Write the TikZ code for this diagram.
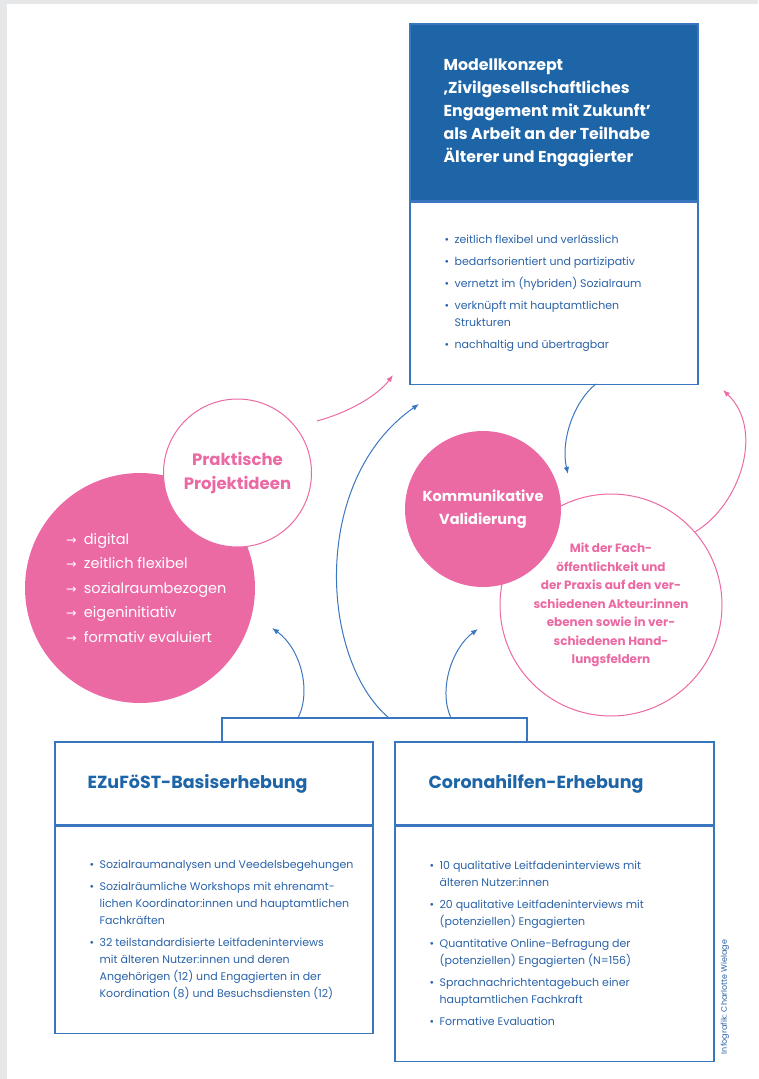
\documentclass[tikz,border=0pt]{standalone}
\usepackage{fontspec}
\setmainfont{Poppins}
\newfontfamily\symfont{DejaVu Sans}
\usepackage{tikz}
\usetikzlibrary{arrows.meta}

\definecolor{headblue}{RGB}{30,101,168}
\definecolor{lineblue}{RGB}{58,118,192}
\definecolor{textblue}{RGB}{42,98,168}
\definecolor{pinkfill}{RGB}{236,106,164}
\definecolor{framegrey}{RGB}{230,231,233}

\newcommand{\bpunkt}{\textbullet\enspace}
\newcommand{\bweiter}{\phantom{\textbullet\enspace}}
\newcommand{\pfeilchen}{{\symfont\fontsize{12.5}{12}\selectfont →}\enspace}

\tikzset{
  kasten/.style={draw=lineblue, line width=1.2pt, rectangle, inner sep=0pt},
  kopfblau/.style={kasten, fill=headblue},
  liste/.style={align=left, inner sep=0pt, text=textblue, font=\fontsize{11}{17}\selectfont},
  titel/.style={inner sep=0pt, text=headblue, font=\bfseries\fontsize{17.5}{22}\selectfont},
  pinkkreis/.style={circle, draw=pinkfill, line width=1pt, fill=white, inner sep=0pt, text=pinkfill, align=center},
  pinkvoll/.style={circle, fill=pinkfill, inner sep=0pt, text=white, align=center},
  pfeilblau/.style={draw=lineblue, line width=1pt, -{Latex[length=7pt,width=5.5pt]}},
  pfeilpink/.style={draw=pinkfill, line width=1pt, -{Latex[length=7pt,width=5.5pt]}},
}

\begin{document}
\begin{tikzpicture}[x=1pt,y=-1pt]
  \useasboundingbox (0,0) rectangle (758,1079);
  \fill[framegrey] (0,0) rectangle (758,4);
  \fill[framegrey] (0,0) rectangle (7,1079);

  % Modellkonzept oben rechts
  \node[kopfblau, minimum width=288pt, minimum height=177pt] (modellkopf) at (554,112.5) {};
  \node[kasten, minimum width=288pt, minimum height=182pt, anchor=north] (modellliste) at (modellkopf.south) {};
  \node[anchor=west, align=left, inner sep=0pt, text=white, font=\bfseries\fontsize{15.8}{23}\selectfont] (modelltitel) at ([xshift=34pt]modellkopf.west)
    {Modellkonzept\\‚Zivilgesellschaftliches\\Engagement mit Zukunft'\\als Arbeit an der Teilhabe\\Älterer und Engagierter};
  \node[liste, anchor=west] (modellpunkte) at ([xshift=35pt]modellliste.west)
    {\bpunkt zeitlich flexibel und verlässlich\\[5pt]
     \bpunkt bedarfsorientiert und partizipativ\\[5pt]
     \bpunkt vernetzt im (hybriden) Sozialraum\\[5pt]
     \bpunkt verknüpft mit hauptamtlichen\\
     \bweiter Strukturen\\[5pt]
     \bpunkt nachhaltig und übertragbar};

  % Kreise links
  \node[pinkvoll, minimum size=230pt] (ideenkreis) at (140,588) {};
  \node[anchor=west, align=left, inner sep=0pt, text=white, font=\fontsize{14.5}{24.5}\selectfont] (ideenliste) at (66,588)
    {\pfeilchen digital\\ \pfeilchen zeitlich flexibel\\ \pfeilchen sozialraumbezogen\\ \pfeilchen eigeninitiativ\\ \pfeilchen formativ evaluiert};
  \node[pinkkreis, minimum size=148pt, font=\bfseries\fontsize{16.5}{24}\selectfont] (praxis) at (237.5,473) {Praktische\\Projektideen};

  % Kreise rechts
  \node[pinkkreis, minimum size=222pt, font=\bfseries\fontsize{12}{18.5}\selectfont] (fach) at (611,605)
    {Mit der Fach-\\öffentlichkeit und\\der Praxis auf den ver-\\schiedenen Akteur:innen\\ebenen sowie in ver-\\schiedenen Hand-\\lungsfeldern};
  \node[pinkvoll, minimum size=156pt, font=\bfseries\fontsize{14.5}{23}\selectfont] (validierung) at (483,509) {Kommunikative\\Validierung};

  % Erhebungen unten
  \node[kasten, minimum width=318pt, minimum height=83pt] (basiskopf) at (214,783.5) {};
  \node[kasten, minimum width=318pt, minimum height=207pt, anchor=north] (basisliste) at (basiskopf.south) {};
  \node[kasten, minimum width=319pt, minimum height=83pt] (coronakopf) at (554.5,783.5) {};
  \node[kasten, minimum width=319pt, minimum height=235pt, anchor=north] (coronaliste) at (coronakopf.south) {};
  \node[titel, anchor=west] (basistitel) at ([xshift=33pt]basiskopf.west) {EZuFöST-Basiserhebung};
  \node[titel, anchor=west] (coronatitel) at ([xshift=34pt]coronakopf.west) {Coronahilfen-Erhebung};
  \node[liste, anchor=west] (basispunkte) at ([xshift=35pt]basisliste.west)
    {\bpunkt Sozialraumanalysen und Veedelsbegehungen\\[5pt]
     \bpunkt Sozialräumliche Workshops mit ehrenamt-\\
     \bweiter lichen Koordinator:innen und hauptamtlichen\\
     \bweiter Fachkräften\\[5pt]
     \bpunkt 32 teilstandardisierte Leitfadeninterviews\\
     \bweiter mit älteren Nutzer:innen und deren\\
     \bweiter Angehörigen (12) und Engagierten in der\\
     \bweiter Koordination (8) und Besuchsdiensten (12)};
  \node[liste, anchor=west] (coronapunkte) at ([xshift=35pt]coronaliste.west)
    {\bpunkt 10 qualitative Leitfadeninterviews mit\\
     \bweiter älteren Nutzer:innen\\[5pt]
     \bpunkt 20 qualitative Leitfadeninterviews mit\\
     \bweiter (potenziellen) Engagierten\\[5pt]
     \bpunkt Quantitative Online-Befragung der\\
     \bweiter (potenziellen) Engagierten (N=156)\\[5pt]
     \bpunkt Sprachnachrichtentagebuch einer\\
     \bweiter hauptamtlichen Fachkraft\\[5pt]
     \bpunkt Formative Evaluation};
  \node[rotate=90, inner sep=0pt, text=textblue, font=\fontsize{8}{10}\selectfont] (credit) at (725,997) {Infografik: Charlotte Wielage};

  % Klammer ueber den Erhebungen
  \coordinate (klammerL) at (222,718);
  \coordinate (klammerR) at (527,718);
  \draw[lineblue, line width=1.2pt] (basiskopf.north -| klammerL) -- (klammerL) -- (klammerR) -- (coronakopf.north -| klammerR);

  % Pfeile
  \coordinate (startA) at (298,718);
  \coordinate (startB) at (389,718);
  \coordinate (startC) at (451,718);
  \coordinate (startD) at (596,384);
  \coordinate (startF) at (317,421);
  \coordinate (zielA) at (272,628);
  \coordinate (zielB) at (419,404);
  \coordinate (zielC) at (478,629);
  \coordinate (zielD) at (568,474);
  \coordinate (zielE) at (723,390);
  \coordinate (zielF) at (393,375);
  \draw[pfeilblau] (startA) .. controls (312,690) and (300,648) .. (zielA);
  \draw[pfeilblau] (startB) .. controls (320,660) and (310,480) .. (zielB);
  \draw[pfeilblau] (startC) .. controls (438,690) and (452,648) .. (zielC);
  \draw[pfeilblau] (startD) .. controls (575,400) and (560,440) .. (zielD);
  \draw[pfeilpink] (fach.41) .. controls (740,505) and (765,430) .. (zielE);
  \draw[pfeilpink] (startF) .. controls (350,412) and (378,395) .. (zielF);
\end{tikzpicture}
\end{document}
